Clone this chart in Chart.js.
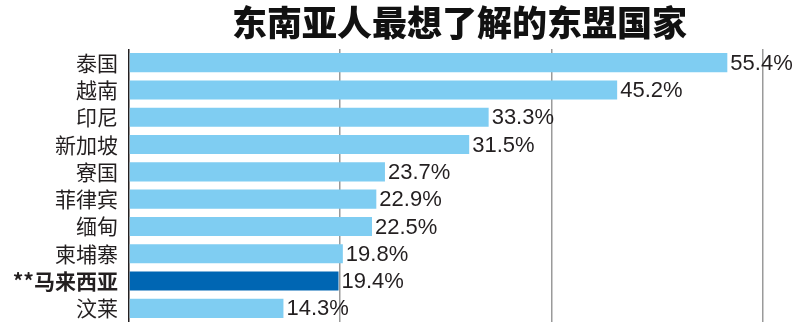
<!DOCTYPE html>
<html lang="zh">
  <head>
    <meta charset="utf-8" />
    <title>东南亚人最想了解的东盟国家</title>
    <script src="https://cdn.jsdelivr.net/npm/chart.js/dist/chart.umd.min.js"></script>
    <style>
      * {
        margin: 0;
        padding: 0;
      }
      body {
        background: #fff;
      }
      .chartBox {
        width: 800px;
        height: 325px;
      }
    </style>
  </head>
  <body>
    <div class="chartBox">
      <canvas id="myChart"></canvas>
    </div>

    <script>
      const titleText = "东南亚人最想了解的东盟国家";
      const countries = ["泰国", "越南", "印尼", "新加坡", "寮国", "菲律宾", "缅甸", "柬埔寨", "**马来西亚", "汶莱"];
      const percents = [55.4, 45.2, 33.3, 31.5, 23.7, 22.9, 22.5, 19.8, 19.4, 14.3];
      const highlight = "**马来西亚";
      const gridValues = [0, 19.55, 39.1, 58.65];

      const textColor = "#231f20";

      // value labels after each bar
      const valueLabels = {
        id: "valueLabels",
        afterDatasetsDraw(chart) {
          const ctx = chart.ctx;
          const meta = chart.getDatasetMeta(0);
          ctx.save();
          ctx.font = "22px 'Liberation Sans', Arial, sans-serif";
          ctx.fillStyle = textColor;
          ctx.textBaseline = "middle";
          ctx.textAlign = "left";
          meta.data.forEach((bar, i) => {
            ctx.fillText(percents[i] + "%", bar.x + 3, bar.y + 1);
          });
          ctx.restore();
        },
      };

      // title centred over the plot
      const topTitle = {
        id: "topTitle",
        afterDraw(chart) {
          const ctx = chart.ctx;
          ctx.save();
          ctx.font = "900 35px 'Noto Sans CJK SC', sans-serif";
          ctx.fillStyle = "#111";
          ctx.textAlign = "center";
          ctx.textBaseline = "middle";
          ctx.fillText(titleText, (chart.chartArea.left + chart.width - 10) / 2, 23);
          ctx.restore();
        },
      };

      const config = {
        type: "bar",
        data: {
          labels: countries,
          datasets: [
            {
              data: percents,
              backgroundColor: countries.map((c) => (c === highlight ? "#0066b3" : "#7fcdf2")),
              borderWidth: 0,
              categoryPercentage: 1,
              barPercentage: 0.7,
            },
          ],
        },
        options: {
          indexAxis: "y",
          responsive: true,
          maintainAspectRatio: false,
          animation: false,
          layout: {
            padding: { top: 49, right: 23, bottom: 3, left: 0 },
          },
          plugins: {
            legend: { display: false },
            tooltip: { enabled: false },
          },
          scales: {
            x: {
              min: 0,
              max: 60,
              afterBuildTicks(scale) {
                scale.ticks = gridValues.map((v) => ({ value: v }));
              },
              ticks: { display: false },
              grid: {
                drawTicks: false,
                color: (c) => (c.tick && c.tick.value === 0 ? "#231f20" : "#9a9a9a"),
                lineWidth: 1.5,
              },
              border: { display: false },
            },
            y: {
              afterFit(scale) {
                scale.width = 129;
                scale.paddingTop = 0;
                scale.paddingBottom = 0;
              },
              grid: { display: false, drawTicks: false },
              border: { display: false },
              ticks: {
                autoSkip: false,
                padding: 11,
                color: textColor,
                font: (c) =>
                  countries[c.index] === highlight
                    ? { family: "'Noto Sans CJK SC', sans-serif", size: 21, weight: "bold" }
                    : { family: "'Noto Sans CJK SC', sans-serif", size: 21, weight: "normal" },
              },
            },
          },
        },
        plugins: [valueLabels, topTitle],
      };

      new Chart(document.getElementById("myChart"), config);
    </script>
  </body>
</html>
